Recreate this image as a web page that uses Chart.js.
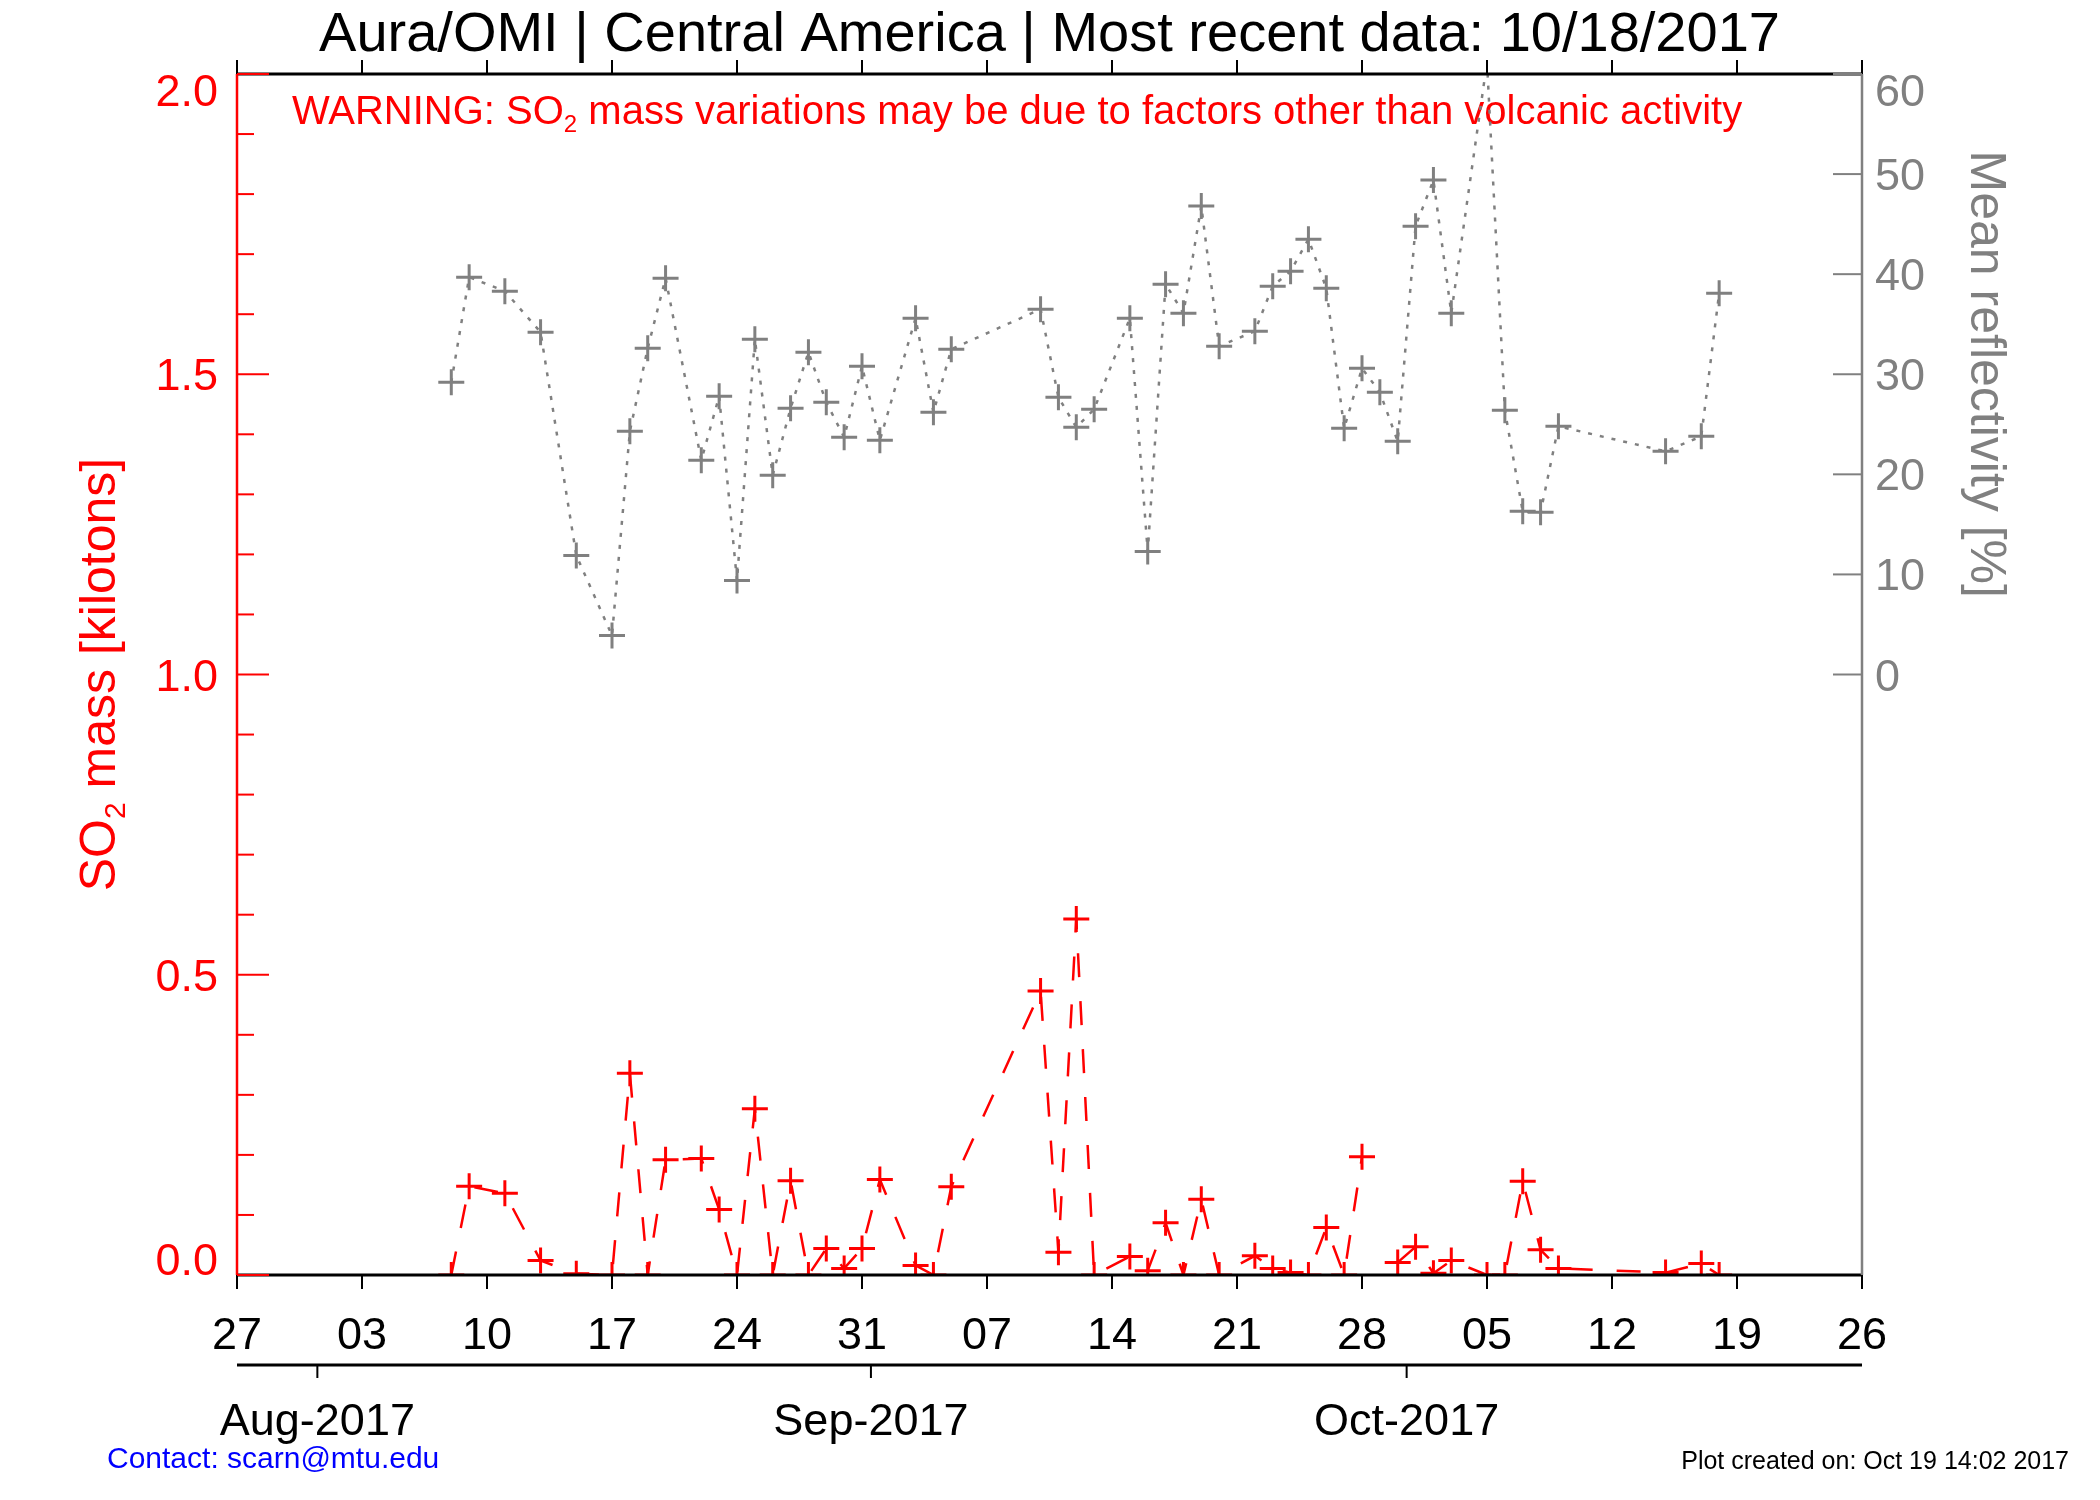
<!DOCTYPE html>
<html>
<head>
<meta charset="utf-8">
<script src="https://cdn.jsdelivr.net/npm/chart.js@4.4.0/dist/chart.umd.min.js"></script>
<style>
  html, body { margin: 0; padding: 0; background: #fff; }
</style>
</head>
<body>
<canvas id="chart" width="2100" height="1500"></canvas>
<script>
// Observation dates (one per overpass)
const dates = [
  '2017-08-08', '2017-08-09', '2017-08-11', '2017-08-13', '2017-08-15', '2017-08-17', '2017-08-18',
  '2017-08-19', '2017-08-20', '2017-08-22', '2017-08-23', '2017-08-24', '2017-08-25', '2017-08-26',
  '2017-08-27', '2017-08-28', '2017-08-29', '2017-08-30', '2017-08-31', '2017-09-01', '2017-09-03',
  '2017-09-04', '2017-09-05', '2017-09-10', '2017-09-11', '2017-09-12', '2017-09-13', '2017-09-15',
  '2017-09-16', '2017-09-17', '2017-09-18', '2017-09-19', '2017-09-20', '2017-09-22', '2017-09-23',
  '2017-09-24', '2017-09-25', '2017-09-26', '2017-09-27', '2017-09-28', '2017-09-29', '2017-09-30',
  '2017-10-01', '2017-10-02', '2017-10-03', '2017-10-05', '2017-10-06', '2017-10-07', '2017-10-08',
  '2017-10-09', '2017-10-15', '2017-10-17', '2017-10-18'
];

// SO2 mass [kilotons] (null = no value, line breaks)
const so2Mass = [
  0, 0.148, 0.136, 0.024, 0.002, 0, 0.336,
  0, 0.192, 0.194, 0.109, 0, 0.277, 0,
  0.157, 0, 0.044, 0.011, 0.044, 0.159, 0.016,
  0, 0.147, 0.473, 0.038, 0.593, 0, 0.031,
  0.007, 0.087, 0, 0.126, 0, 0.032, 0.011,
  0.004, 0, 0.079, 0, 0.197, null, 0.021,
  0.047, 0.003, 0.024, 0, 0, 0.156, 0.042,
  0.011, 0.004, 0.019, 0
];

// Mean reflectivity [%]
const reflectivity = [
  29.2, 39.7, 38.3, 34.2, 11.9, 3.9, 24.3,
  32.6, 39.6, 21.4, 27.8, 9.4, 33.5, 19.9,
  26.6, 32.2, 27.2, 23.7, 30.8, 23.4, 35.6,
  26.2, 32.5, 36.5, 27.7, 24.7, 26.5, 35.6,
  12.3, 39.0, 36.1, 46.8, 32.8, 34.3, 38.8,
  40.3, 43.5, 38.6, 24.6, 30.6, 28.2, 23.3,
  44.8, 49.4, 36.1, 61.2, 26.4, 16.3, 16.2,
  24.8, 22.3, 23.8, 38.1
];

const startDate = '2017-07-27';
const endDate = '2017-10-26';
const weekTicks = ['2017-07-27', '2017-08-03', '2017-08-10', '2017-08-17', '2017-08-24', '2017-08-31', '2017-09-07',
  '2017-09-14', '2017-09-21', '2017-09-28', '2017-10-05', '2017-10-12', '2017-10-19', '2017-10-26'];
const monthTicks = ['2017-08-01', '2017-09-01', '2017-10-01'];
const monthLabels = ['Aug-2017', 'Sep-2017', 'Oct-2017'];
const so2Ticks = [0.0, 0.5, 1.0, 1.5, 2.0];
const reflTicks = [0, 10, 20, 30, 40, 50, 60];

const FONT = '"Liberation Sans", Arial, Helvetica, sans-serif';
const RED = '#ff0000', GRAY = '#808080', BLACK = '#000000', BLUE = '#0000ff';

// days since start (week ticks / data sit at noon, month starts at midnight)
const dayOf = s => (Date.parse(s) - Date.parse(startDate)) / 86400000;

function seg(ctx, x1, y1, x2, y2, color, w) {
    ctx.beginPath();
    ctx.strokeStyle = color;
    ctx.lineWidth = w;
    ctx.moveTo(x1, y1);
    ctx.lineTo(x2, y2);
    ctx.stroke();
}

// text with subscript parts: [[text, isSub], ...]
function drawRich(ctx, parts, x, y, size, align) {
    let w = 0;
    parts.forEach(p => {
        ctx.font = (p[1] ? size * 0.6 : size) + 'px ' + FONT;
        w += ctx.measureText(p[0]).width;
    });
    let cx = align === 'center' ? x - w / 2 : x;
    ctx.textAlign = 'left';
    ctx.textBaseline = 'alphabetic';
    parts.forEach(p => {
        const s = p[1] ? size * 0.6 : size;
        ctx.font = s + 'px ' + FONT;
        ctx.fillText(p[0], cx, y + (p[1] ? size * 0.2 : 0));
        cx += ctx.measureText(p[0]).width;
    });
}

function text(ctx, str, x, y, size, color, align) {
    ctx.font = size + 'px ' + FONT;
    ctx.fillStyle = color;
    ctx.textAlign = align;
    ctx.textBaseline = 'alphabetic';
    ctx.fillText(str, x, y);
}

const idlAxes = {
    id: 'idlAxes',
    beforeDatasetsDraw(chart) {
        const ctx = chart.ctx;
        ctx.save();
        ctx.fillStyle = RED;
        drawRich(ctx, [['WARNING: SO'], ['2', true], [' mass variations may be due to factors other than volcanic activity']],
            292, 124, 40, 'left');
        ctx.restore();
    },
    afterDatasetsDraw(chart) {
        const { ctx, chartArea: a, scales } = chart;
        const x = scales.x, y = scales.y, y2 = scales.y2;
        ctx.save();
        ctx.setLineDash([]);
        ctx.lineCap = 'butt';

        // box top / bottom
        seg(ctx, a.left, a.top, a.right, a.top, BLACK, 3);
        seg(ctx, a.left, a.bottom, a.right, a.bottom, BLACK, 3);

        // week ticks (outward) and day labels
        weekTicks.forEach(d => {
            const px = x.getPixelForValue(dayOf(d));
            seg(ctx, px, a.top, px, a.top - 14, BLACK, 2);
            seg(ctx, px, a.bottom, px, a.bottom + 14, BLACK, 2);
            const lbl = String(new Date(Date.parse(d)).getUTCDate()).padStart(2, '0');
            text(ctx, lbl, px, 1349, 45, BLACK, 'center');
        });

        // month axis
        seg(ctx, a.left, 1365, a.right, 1365, BLACK, 3);
        monthTicks.forEach((d, i) => {
            const px = x.getPixelForValue(dayOf(d) - 0.5);
            seg(ctx, px, 1365, px, 1378, BLACK, 2);
            text(ctx, monthLabels[i], px, 1435, 45, BLACK, 'center');
        });

        // left SO2 axis
        seg(ctx, a.left, a.top, a.left, a.bottom, RED, 2.5);
        for (let i = 0; i <= 20; i++) {
            const py = y.getPixelForValue(i / 10);
            const len = i % 5 === 0 ? 32 : 17;
            seg(ctx, a.left, py, a.left + len, py, RED, 2);
        }
        so2Ticks.forEach((v, i) => {
            const py = y.getPixelForValue(v);
            let by = py + 16;
            if (i === so2Ticks.length - 1) by = py + 32;
            if (i === 0) by = py;
            text(ctx, v.toFixed(1), a.left - 19, by, 45, RED, 'right');
        });

        // right reflectivity axis
        seg(ctx, a.right, a.top, a.right, a.bottom, GRAY, 2.5);
        reflTicks.forEach((v, i) => {
            const py = y2.getPixelForValue(v);
            seg(ctx, a.right, py, a.right - 29, py, GRAY, 2);
            const by = i === reflTicks.length - 1 ? py + 32 : py + 16;
            text(ctx, String(v), a.right + 13, by, 45, GRAY, 'left');
        });

        // axis titles
        ctx.save();
        ctx.translate(115, (a.top + a.bottom) / 2);
        ctx.rotate(-Math.PI / 2);
        ctx.fillStyle = RED;
        drawRich(ctx, [['SO'], ['2', true], [' mass [kilotons]']], 0, 0, 50, 'center');
        ctx.restore();

        ctx.save();
        ctx.translate(1971, (y2.getPixelForValue(0) + y2.getPixelForValue(60)) / 2);
        ctx.rotate(Math.PI / 2);
        ctx.fillStyle = GRAY;
        drawRich(ctx, [['Mean reflectivity [%]']], 0, 0, 50, 'center');
        ctx.restore();

        // title and footers
        text(ctx, 'Aura/OMI | Central America | Most recent data: 10/18/2017', (a.left + a.right) / 2, 51, 56, BLACK, 'center');
        text(ctx, 'Contact: scarn@mtu.edu', 107, 1468, 30, BLUE, 'left');
        text(ctx, 'Plot created on: Oct 19 14:02 2017', 2069, 1469, 25, BLACK, 'right');

        ctx.restore();
    }
};

const ctx = document.getElementById('chart').getContext('2d');
new Chart(ctx, {
    type: 'line',
    data: {
        datasets: [
            {
                label: 'Mean reflectivity',
                yAxisID: 'y2',
                data: dates.map((d, i) => ({ x: dayOf(d), y: reflectivity[i] })),
                borderColor: GRAY,
                borderWidth: 2.5,
                borderDash: [4, 8],
                pointStyle: 'cross',
                pointRadius: 13,
                pointBorderWidth: 3,
                pointBorderColor: GRAY,
                fill: false,
                tension: 0,
                clip: 0
            },
            {
                label: 'SO2 mass',
                yAxisID: 'y',
                data: dates.map((d, i) => ({ x: dayOf(d), y: so2Mass[i] })),
                borderColor: RED,
                borderWidth: 2.5,
                borderDash: [24, 24],
                pointStyle: 'cross',
                pointRadius: 13,
                pointBorderWidth: 3,
                pointBorderColor: RED,
                fill: false,
                tension: 0,
                spanGaps: false,
                clip: 0
            }
        ]
    },
    options: {
        responsive: false,
        animation: false,
        devicePixelRatio: 1,
        layout: { padding: { left: 237, right: 238, top: 74, bottom: 225 } },
        plugins: { legend: { display: false }, tooltip: { enabled: false } },
        scales: {
            x: { type: 'linear', min: 0, max: dayOf(endDate), display: false },
            y: { min: 0, max: 2, display: false },
            y2: { min: -60, max: 60, display: false, position: 'right' }
        }
    },
    plugins: [idlAxes]
});
</script>
</body>
</html>
